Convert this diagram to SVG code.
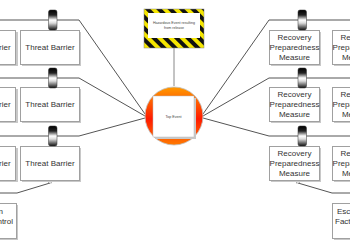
<svg xmlns="http://www.w3.org/2000/svg" width="350" height="250" viewBox="0 0 350 250">
<style>
.box{fill:#fff;stroke:#a0a0a0;stroke-width:1}
.sh{fill:#c8c8c8}
.t{font-family:"Liberation Sans",Arial,sans-serif;font-size:8px;fill:#333;text-anchor:middle}
.tiny{font-family:"Liberation Sans",Arial,sans-serif;font-size:3.6px;fill:#444;text-anchor:middle}
.ln{fill:none;stroke:#555;stroke-width:1}
.cyl{fill:url(#cg);stroke:#333;stroke-width:0.5}
</style>
<defs>
<linearGradient id="cg" x1="0" y1="0" x2="0" y2="1">
<stop offset="0" stop-color="#000"/>
<stop offset="0.25" stop-color="#222"/>
<stop offset="0.5" stop-color="#fff"/>
<stop offset="0.65" stop-color="#ddd"/>
<stop offset="1" stop-color="#111"/>
</linearGradient>
<linearGradient id="og" x1="0" y1="0" x2="0" y2="1">
<stop offset="0" stop-color="#ff9a00"/>
<stop offset="0.55" stop-color="#ff1a00"/>
<stop offset="1" stop-color="#ff7a00"/>
</linearGradient>
<pattern id="stripes" patternUnits="userSpaceOnUse" width="8" height="8" patternTransform="rotate(-45)">
<rect width="8" height="8" fill="#f5e600"/>
<rect width="4" height="8" fill="#111"/>
</pattern>
</defs>

<g id="connectors">
<path class="ln" d="M0 20H79L145 114"/>
<path class="ln" d="M0 78H79L145 116"/>
<path class="ln" d="M0 136H79L145 118"/>
<path class="ln" d="M350 20H269L203 114"/>
<path class="ln" d="M350 78H269L203 116"/>
<path class="ln" d="M350 136H269L203 118"/>
<path class="ln" d="M174 48V86" style="stroke:#888"/>
<path class="ln" d="M50 183L17 193H0"/>
<path class="ln" d="M298 183L332 193H350"/>
<rect x="48.5" y="180" width="3" height="3" fill="#fff" stroke="#888" stroke-width="0.6"/>
<rect x="296.5" y="180" width="3" height="3" fill="#fff" stroke="#888" stroke-width="0.6"/>
</g>

<g id="hazard">
<rect x="144" y="9" width="60" height="39" fill="url(#stripes)" stroke="#888" stroke-width="0.5"/>
<rect x="148" y="13" width="52" height="25" fill="#fff"/>
<text class="tiny" x="174" y="24">Hazardous Event resulting</text>
<text class="tiny" x="174" y="29">from release</text>
</g>

<g id="top-event">
<circle cx="174" cy="116" r="29" fill="url(#og)" stroke="#c0c0c0" stroke-width="0.8"/>
<rect x="155" y="98" width="41" height="41" class="sh"/>
<rect x="153" y="96" width="41" height="41" fill="#fff" stroke="#bbb" stroke-width="0.5"/>
<text class="tiny" x="173.5" y="117.5">Top Event</text>
</g>

<g id="threat-barrier-1a"><rect class="sh" x="-41" y="32" width="59" height="34"/><rect class="box" x="-43.5" y="30.5" width="59" height="34"/><text class="t" x="-14" y="50">Threat Barrier</text></g>
<g id="threat-barrier-1b"><rect class="sh" x="22" y="32" width="59" height="34"/><rect class="box" x="20.5" y="30.5" width="59" height="34"/><text class="t" x="50" y="50">Threat Barrier</text></g>
<g id="threat-barrier-2a"><rect class="sh" x="-41" y="89" width="59" height="34"/><rect class="box" x="-43.5" y="87.5" width="59" height="34"/><text class="t" x="-14" y="107">Threat Barrier</text></g>
<g id="threat-barrier-2b"><rect class="sh" x="22" y="89" width="59" height="34"/><rect class="box" x="20.5" y="87.5" width="59" height="34"/><text class="t" x="50" y="107">Threat Barrier</text></g>
<g id="threat-barrier-3a"><rect class="sh" x="-41" y="148" width="59" height="34"/><rect class="box" x="-43.5" y="146.5" width="59" height="34"/><text class="t" x="-14" y="166">Threat Barrier</text></g>
<g id="threat-barrier-3b"><rect class="sh" x="22" y="148" width="59" height="34"/><rect class="box" x="20.5" y="146.5" width="59" height="34"/><text class="t" x="50" y="166">Threat Barrier</text></g>

<g id="recovery-1a"><rect class="sh" x="271" y="32" width="50" height="34"/><rect class="box" x="269.5" y="30.5" width="50" height="34"/><text class="t" x="294.5" y="40">Recovery</text><text class="t" x="294.5" y="50">Preparedness</text><text class="t" x="294.5" y="60">Measure</text></g>
<g id="recovery-1b"><rect class="sh" x="334" y="32" width="50" height="34"/><rect class="box" x="332.5" y="30.5" width="50" height="34"/><text class="t" x="357.5" y="40">Recovery</text><text class="t" x="357.5" y="50">Preparedness</text><text class="t" x="357.5" y="60">Measure</text></g>
<g id="recovery-2a"><rect class="sh" x="271" y="89" width="50" height="34"/><rect class="box" x="269.5" y="87.5" width="50" height="34"/><text class="t" x="294.5" y="97">Recovery</text><text class="t" x="294.5" y="107">Preparedness</text><text class="t" x="294.5" y="117">Measure</text></g>
<g id="recovery-2b"><rect class="sh" x="334" y="89" width="50" height="34"/><rect class="box" x="332.5" y="87.5" width="50" height="34"/><text class="t" x="357.5" y="97">Recovery</text><text class="t" x="357.5" y="107">Preparedness</text><text class="t" x="357.5" y="117">Measure</text></g>
<g id="recovery-3a"><rect class="sh" x="271" y="148" width="50" height="34"/><rect class="box" x="269.5" y="146.5" width="50" height="34"/><text class="t" x="294.5" y="156">Recovery</text><text class="t" x="294.5" y="166">Preparedness</text><text class="t" x="294.5" y="176">Measure</text></g>
<g id="recovery-3b"><rect class="sh" x="334" y="148" width="50" height="34"/><rect class="box" x="332.5" y="146.5" width="50" height="34"/><text class="t" x="357.5" y="156">Recovery</text><text class="t" x="357.5" y="166">Preparedness</text><text class="t" x="357.5" y="176">Measure</text></g>

<g id="escalation-left"><rect class="sh" x="-42" y="205" width="60" height="35"/><rect class="box" x="-43.5" y="203.5" width="60" height="35"/><text class="t" x="3" y="214" style="text-anchor:end">Escalation</text><text class="t" x="13" y="224" style="text-anchor:end">Factor Control</text></g>
<g id="escalation-right"><rect class="sh" x="334" y="205" width="60" height="35"/><rect class="box" x="332.5" y="203.5" width="60" height="35"/><text class="t" x="337" y="214" style="text-anchor:start">Escalation</text><text class="t" x="335" y="224" style="text-anchor:start">Factor</text></g>

<g id="barriers">
<rect class="cyl" x="48.5" y="10" width="8.5" height="20" rx="2"/>
<rect class="cyl" x="48.5" y="68" width="8.5" height="20" rx="2"/>
<rect class="cyl" x="48.5" y="126" width="8.5" height="20" rx="2"/>
<rect class="cyl" x="298" y="10" width="8.5" height="20" rx="2"/>
<rect class="cyl" x="298" y="68" width="8.5" height="20" rx="2"/>
<rect class="cyl" x="298" y="126" width="8.5" height="20" rx="2"/>
</g>
</svg>
